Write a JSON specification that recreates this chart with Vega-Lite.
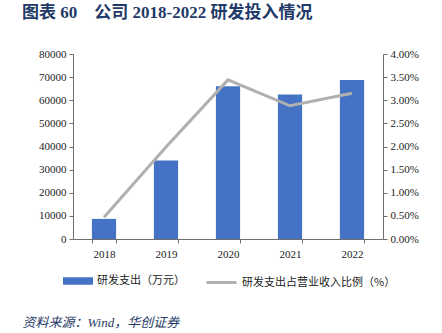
{
  "$schema": "https://vega.github.io/schema/vega-lite/v6.json",
  "autosize": "none",
  "width": 310,
  "height": 185,
  "padding": {"left": 73, "top": 54, "right": 59, "bottom": 94},
  "background": "white",
  "title": {
    "text": "图表\u00a060\u00a0\u00a0\u00a0\u00a0公司\u00a02018-2022\u00a0研发投入情况",
    "anchor": "start",
    "frame": "group",
    "dx": -51,
    "offset": 26,
    "font": "Liberation Serif, Noto Sans CJK SC",
    "fontSize": 17,
    "fontWeight": "bold",
    "color": "#1F3A68"
  },
  "config": {
    "view": {"stroke": null},
    "font": "Liberation Serif, Noto Sans CJK SC",
    "axis": {
      "labelFont": "Liberation Serif",
      "labelFontSize": 11,
      "labelColor": "#222222",
      "domainColor": "#6f6f6f",
      "tickColor": "#6f6f6f",
      "tickSize": 4,
      "grid": false
    }
  },
  "data": {
    "values": [
      {"year": "2018", "rd": 8700, "ratio": 0.0047},
      {"year": "2019", "rd": 33900, "ratio": 0.0199},
      {"year": "2020", "rd": 66100, "ratio": 0.0344},
      {"year": "2021", "rd": 62500, "ratio": 0.0288},
      {"year": "2022", "rd": 68800, "ratio": 0.0315}
    ]
  },
  "encoding": {
    "x": {
      "field": "year",
      "type": "ordinal",
      "scale": {"paddingInner": 0.61, "paddingOuter": 0.305},
      "axis": {
        "labelAngle": 0,
        "tickBand": "extent",
        "labelPadding": 5,
        "title": "资料来源：Wind，华创证券",
        "titleFont": "Liberation Serif, Noto Sans CJK SC",
        "titleFontStyle": "italic",
        "titleFontWeight": "normal",
        "titleFontSize": 13,
        "titleColor": "#1F3A68",
        "titleAnchor": "start",
        "titleAlign": "left",
        "titleBaseline": "middle",
        "titleX": -51,
        "titleY": 83
      }
    }
  },
  "layer": [
    {
      "mark": {"type": "bar"},
      "encoding": {
        "y": {
          "field": "rd",
          "type": "quantitative",
          "scale": {"domain": [0, 80000], "nice": false},
          "axis": {"values": [0, 10000, 20000, 30000, 40000, 50000, 60000, 70000, 80000], "format": "d", "title": null, "labelPadding": 3}
        },
        "fill": {
          "datum": "研发支出（万元）",
          "scale": {"range": ["#4472C4"]},
          "legend": {
            "orient": "none",
            "legendX": -10,
            "legendY": 212,
            "title": null,
            "symbolType": "M-1,-0.25H1V0.25H-1Z",
            "symbolSize": 900,
            "symbolStrokeWidth": 0,
            "labelFont": "Noto Sans CJK SC",
            "labelFontSize": 11,
            "labelColor": "#222222"
          }
        }
      }
    },
    {
      "mark": {"type": "line", "strokeWidth": 3},
      "encoding": {
        "y": {
          "field": "ratio",
          "type": "quantitative",
          "scale": {"domain": [0, 0.04], "nice": false},
          "axis": {"orient": "right", "values": [0, 0.005, 0.01, 0.015, 0.02, 0.025, 0.03, 0.035, 0.04], "format": ".2%", "title": null, "labelPadding": 3}
        },
        "stroke": {
          "datum": "研发支出占营业收入比例（%）",
          "scale": {"range": ["#B0B0B0"]},
          "legend": {
            "orient": "none",
            "legendX": 132,
            "legendY": 212,
            "title": null,
            "symbolType": "stroke",
            "symbolSize": 900,
            "symbolStrokeWidth": 3,
            "labelFont": "Noto Sans CJK SC",
            "labelFontSize": 11,
            "labelColor": "#222222"
          }
        }
      }
    }
  ],
  "resolve": {"scale": {"y": "independent", "fill": "independent", "stroke": "independent"}}
}
